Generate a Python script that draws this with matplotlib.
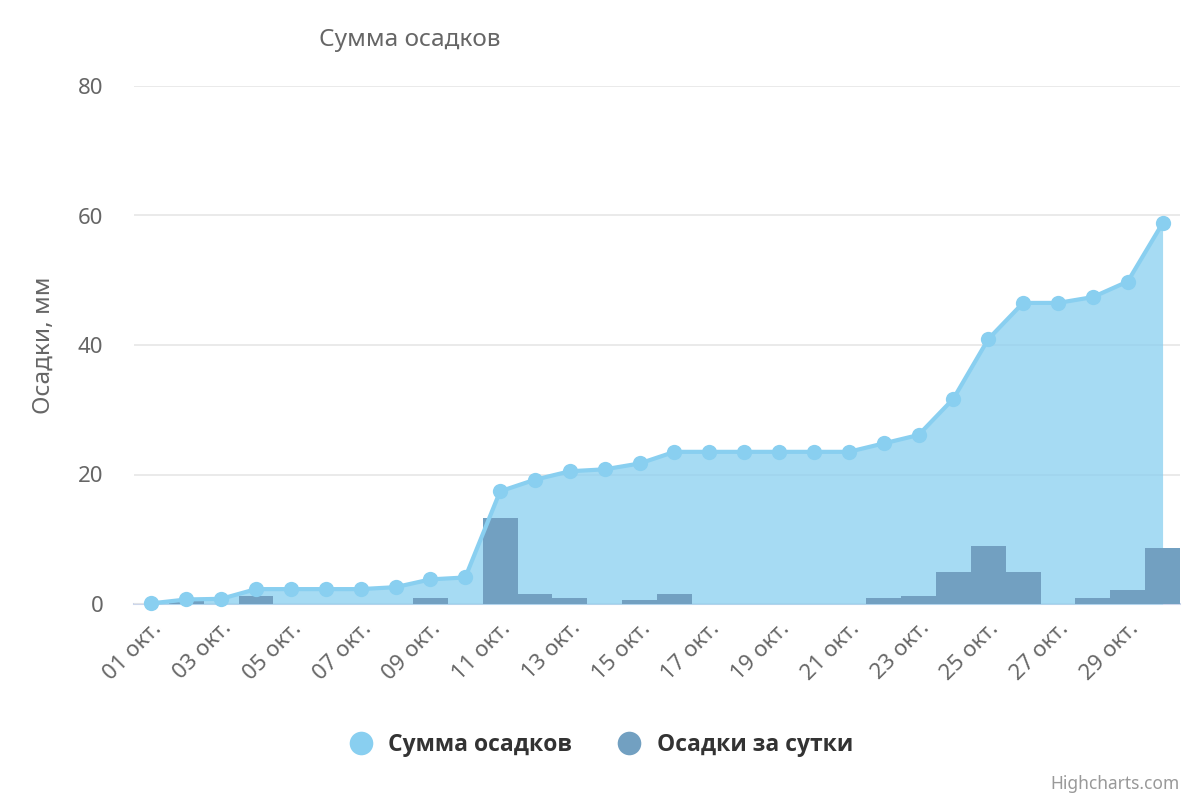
import matplotlib
matplotlib.use("Agg")
import matplotlib.pyplot as plt
from matplotlib.lines import Line2D

plt.rcParams['font.family'] = ['Noto Sans', 'DejaVu Sans']

# days of october
days = list(range(1, 31))
# cumulative precipitation, mm
total = [0.1, 0.7, 0.8, 2.3, 2.3, 2.3, 2.3, 2.6, 3.8, 4.1,
         17.4, 19.2, 20.5, 20.8, 21.7, 23.5, 23.5, 23.5, 23.5, 23.5,
         23.5, 24.8, 26.1, 31.7, 40.9, 46.5, 46.5, 47.4, 49.8, 58.8]
# daily precipitation, mm
daily = [0, 0.4, 0, 1.2, 0, 0, 0, 0, 0.9, 0,
         13.3, 1.5, 0.9, 0, 0.6, 1.5, 0, 0, 0, 0,
         0, 0.9, 1.2, 5.0, 9.0, 5.0, 0, 0.9, 2.2, 8.7]
tick_days = days[::2]
tick_labels = ["%02d окт." % d for d in tick_days]
y_ticks = [0, 20, 40, 60, 80]

c_total = '#89CFF0'
c_daily = '#72A0C1'
grey = '#666666'

fig = plt.figure(figsize=(12, 8), dpi=100)
ax = fig.add_axes([134/1200, 1-604/800, (1180-134)/1200, (604-86)/800])

ax.fill_between(days, total, 0, color=c_total, alpha=0.75, lw=0, zorder=1)
ax.bar(days, daily, width=1.0, color=c_daily, lw=0, zorder=2)
ax.plot(days, total, color=c_total, lw=3, marker='o', ms=11,
        markeredgewidth=0, zorder=3, clip_on=False)

ax.set_xlim(0.5, 30.5)
ax.set_ylim(0, 80)
ax.set_yticks(y_ticks)
ax.set_xticks(tick_days)
ax.set_xticklabels(tick_labels, rotation=45, ha='right', rotation_mode='anchor')
ax.tick_params(axis='both', length=0, labelsize=16, labelcolor=grey)
ax.tick_params(axis='x', pad=10)
ax.tick_params(axis='y', pad=22)
ax.grid(axis='y', color='#e6e6e6', lw=1.2, zorder=0)
ax.set_axisbelow(True)
for s in ['top', 'right', 'left']:
    ax.spines[s].set_visible(False)
ax.spines['bottom'].set_color('#ccd6eb')
ax.spines['bottom'].set_linewidth(1.5)
ax.spines['bottom'].set_zorder(0.5)

ax.set_ylabel('Осадки, мм', fontsize=17.5, color=grey, labelpad=16)

fig.text(410/1200, 1-40/800, 'Сумма осадков', fontsize=17.5, color=grey,
         ha='center', va='center')

handles = [Line2D([], [], ls='none', marker='o', ms=17, color=c_total, markeredgewidth=0),
           Line2D([], [], ls='none', marker='o', ms=17, color=c_daily, markeredgewidth=0)]
fig.legend(handles, ['Сумма осадков', 'Осадки за сутки'], loc='center',
           bbox_to_anchor=(0.5, 1-745/800), ncol=2, frameon=False,
           prop={'family': ['Open Sans', 'DejaVu Sans'], 'size': 16.5, 'weight': 'bold'},
           labelcolor='#333333',
           handletextpad=0.6, columnspacing=1.9, handlelength=1.2)

fig.text(1180/1200, 1-784/800, 'Highcharts.com', fontsize=12.5, color='#999999',
         ha='right', va='center')

fig.savefig('out.png', dpi=100)
